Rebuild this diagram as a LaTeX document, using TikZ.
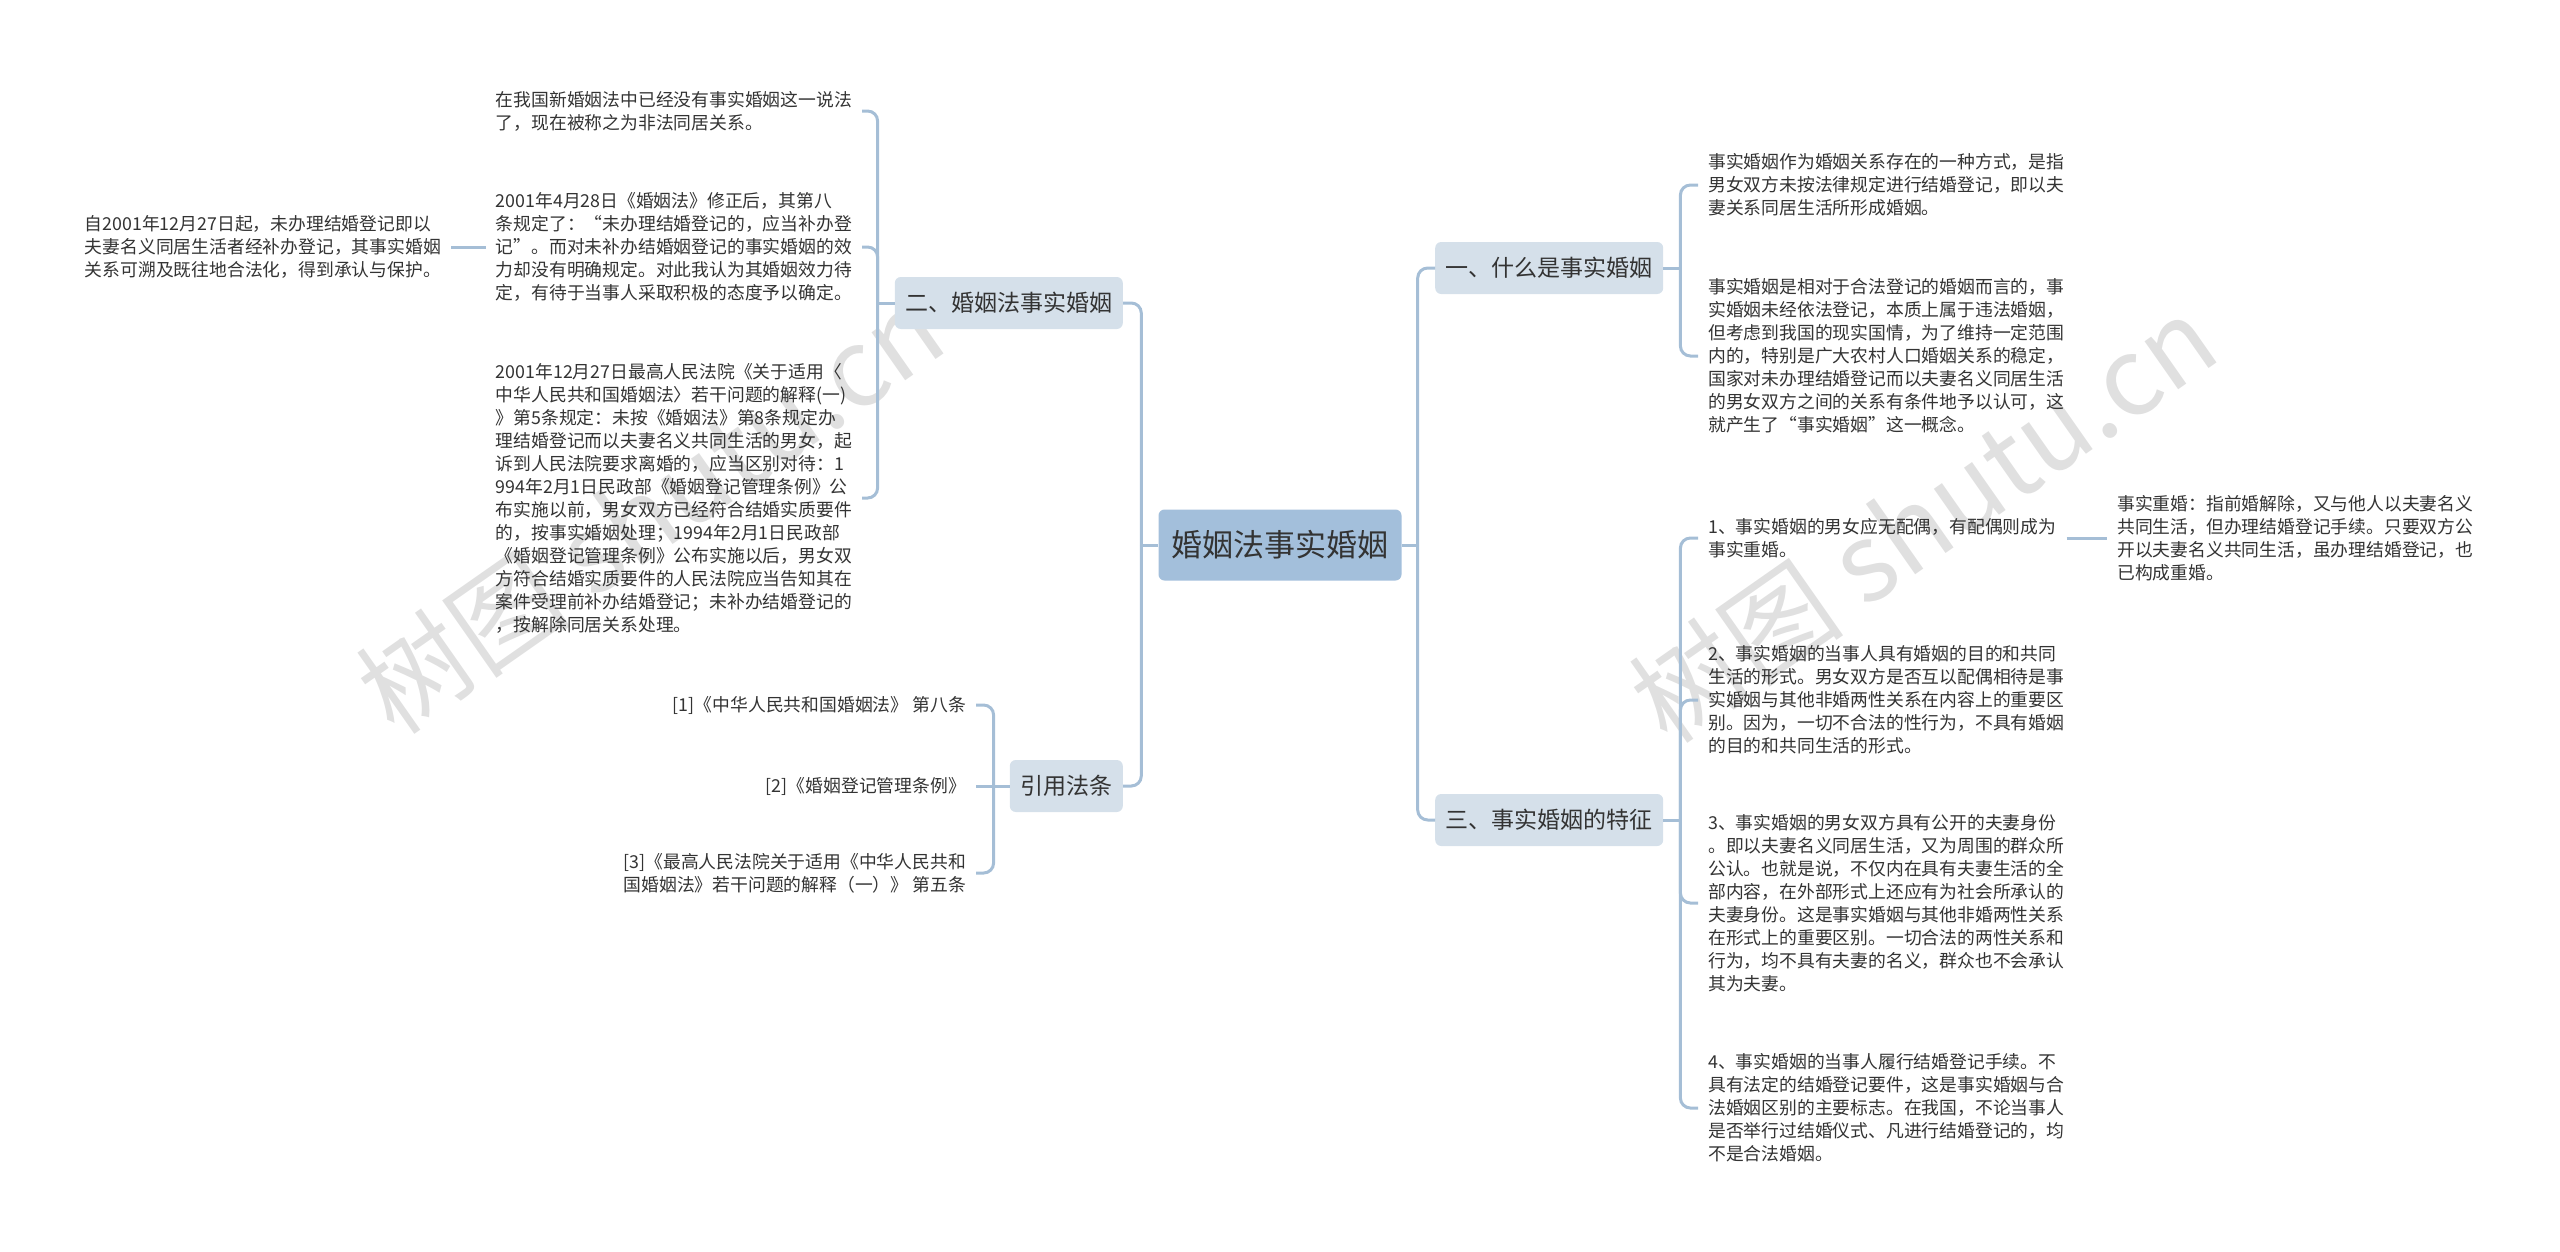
\documentclass[tikz,border=0pt]{standalone}
\usepackage{fontspec}
\setmainfont{Noto Sans CJK SC}
\usetikzlibrary{calc}
\definecolor{linecol}{RGB}{165,190,214}
\definecolor{rootcol}{RGB}{163,191,219}
\definecolor{topiccol}{RGB}{213,224,234}
\definecolor{txtcol}{RGB}{51,51,51}
\definecolor{markcol}{RGB}{224,224,224}

\begin{document}
\begin{tikzpicture}[x=1pt,y=-1pt,
  link/.style={draw=linecol,line width=3pt,rounded corners=10pt},
  root/.style={fill=rootcol,rounded corners=6pt,minimum height=71pt,inner xsep=13pt,font=\fontsize{31}{36}\selectfont,text=txtcol},
  topic/.style={fill=topiccol,rounded corners=6pt,minimum height=52pt,inner xsep=10.5pt,font=\fontsize{23}{28}\selectfont,text=txtcol},
  leaf/.style={align=left,inner xsep=10pt,inner ysep=2pt,font=\fontsize{17.8}{23}\selectfont,text=txtcol},
  leafr/.style={leaf,align=right}]
\useasboundingbox (0,0) rectangle (2560,1251);
% watermark
\foreach \wx/\wy/\wn in {650/510/markl,1923/519/markr}
  \node[rotate=35,text=markcol,font=\fontsize{108}{108}\selectfont] (\wn) at (\wx,\wy) {树图 shutu.cn};

\node[root] (root) at (1280,545) {婚姻法事实婚姻};
\node[topic,anchor=west] (what) at (1435,268) {一、什么是事实婚姻};
\node[topic,anchor=west] (trait) at (1435,820) {三、事实婚姻的特征};
\node[topic,anchor=east] (law) at (1123,303) {二、婚姻法事实婚姻};
\node[topic,anchor=east] (cite) at (1123,786) {引用法条};

% right side
\node[leaf,anchor=west] (what1) at (1698,185) {事实婚姻作为婚姻关系存在的一种方式，是指\\男女双方未按法律规定进行结婚登记，即以夫\\妻关系同居生活所形成婚姻。};
\node[leaf,anchor=west] (what2) at (1698,356) {事实婚姻是相对于合法登记的婚姻而言的，事\\实婚姻未经依法登记，本质上属于违法婚姻，\\但考虑到我国的现实国情，为了维持一定范围\\内的，特别是广大农村人口婚姻关系的稳定，\\国家对未办理结婚登记而以夫妻名义同居生活\\的男女双方之间的关系有条件地予以认可，这\\就产生了“事实婚姻”这一概念。};
\node[leaf,anchor=west] (trait1) at (1698,538) {1、事实婚姻的男女应无配偶，有配偶则成为\\事实重婚。};
\node[leaf,anchor=west] (bigamy) at (2107,538) {事实重婚：指前婚解除，又与他人以夫妻名义\\共同生活，但办理结婚登记手续。只要双方公\\开以夫妻名义共同生活，虽办理结婚登记，也\\已构成重婚。};
\node[leaf,anchor=west] (trait2) at (1698,700) {2、事实婚姻的当事人具有婚姻的目的和共同\\生活的形式。男女双方是否互以配偶相待是事\\实婚姻与其他非婚两性关系在内容上的重要区\\别。因为，一切不合法的性行为，不具有婚姻\\的目的和共同生活的形式。};
\node[leaf,anchor=west] (trait3) at (1698,903) {3、事实婚姻的男女双方具有公开的夫妻身份\\。即以夫妻名义同居生活，又为周围的群众所\\公认。也就是说，不仅内在具有夫妻生活的全\\部内容，在外部形式上还应有为社会所承认的\\夫妻身份。这是事实婚姻与其他非婚两性关系\\在形式上的重要区别。一切合法的两性关系和\\行为，均不具有夫妻的名义，群众也不会承认\\其为夫妻。};
\node[leaf,anchor=west] (trait4) at (1698,1108) {4、事实婚姻的当事人履行结婚登记手续。不\\具有法定的结婚登记要件，这是事实婚姻与合\\法婚姻区别的主要标志。在我国，不论当事人\\是否举行过结婚仪式、凡进行结婚登记的，均\\不是合法婚姻。};

% left side
\node[leaf,anchor=east] (law1) at (862,111) {在我国新婚姻法中已经没有事实婚姻这一说法\\了，现在被称之为非法同居关系。};
\node[leaf,anchor=east] (law2) at (862,247) {2001年4月28日《婚姻法》修正后，其第八\\条规定了：“未办理结婚登记的，应当补办登\\记”。而对未补办结婚姻登记的事实婚姻的效\\力却没有明确规定。对此我认为其婚姻效力待\\定，有待于当事人采取积极的态度予以确定。};
\node[leaf,anchor=east] (law3) at (862,498) {2001年12月27日最高人民法院《关于适用〈\\中华人民共和国婚姻法〉若干问题的解释(一)\\》第5条规定：未按《婚姻法》第8条规定办\\理结婚登记而以夫妻名义共同生活的男女，起\\诉到人民法院要求离婚的，应当区别对待：1\\994年2月1日民政部《婚姻登记管理条例》公\\布实施以前，男女双方已经符合结婚实质要件\\的，按事实婚姻处理；1994年2月1日民政部\\《婚姻登记管理条例》公布实施以后，男女双\\方符合结婚实质要件的人民法院应当告知其在\\案件受理前补办结婚登记；未补办结婚登记的\\，按解除同居关系处理。};
\node[leaf,anchor=east] (since) at (451,247) {自2001年12月27日起，未办理结婚登记即以\\夫妻名义同居生活者经补办登记，其事实婚姻\\关系可溯及既往地合法化，得到承认与保护。};
\node[leafr,anchor=east] (cite1) at (976,705) {[1]《中华人民共和国婚姻法》 第八条};
\node[leafr,anchor=east] (cite2) at (976,786) {[2]《婚姻登记管理条例》};
\node[leafr,anchor=east] (cite3) at (976,873) {[3]《最高人民法院关于适用《中华人民共和\\国婚姻法》若干问题的解释（一）》 第五条};

% connectors
\draw[link] (root.east) -- ++(16,0) coordinate (rj);
\foreach \t in {what,trait} \draw[link] (rj) |- (\t.west);
\draw[link] (root.west) -- ++(-17,0) coordinate (lj);
\foreach \t in {law,cite} \draw[link] (lj) |- (\t.east);
\draw[link] (what.east) -- ++(17,0) coordinate (wj);
\foreach \t in {what1,what2} \draw[link] (wj) |- (\t.west);
\draw[link] (trait.east) -- ++(17,0) coordinate (tj);
\foreach \t in {trait1,trait2,trait3,trait4} \draw[link] (tj) |- (\t.west);
\draw[link] (trait1.east) -- (bigamy.west);
\draw[link] (law.west) -- ++(-17,0) coordinate (aj);
\foreach \t in {law1,law2,law3} \draw[link] (aj) |- (\t.east);
\draw[link] (since.east) -- (law2.west);
\draw[link] (cite.west) -- ++(-16,0) coordinate (cj);
\foreach \t in {cite1,cite3} \draw[link] (cj) |- (\t.east);
\draw[link] (cj) -- (cite2.east);
\end{tikzpicture}
\end{document}
